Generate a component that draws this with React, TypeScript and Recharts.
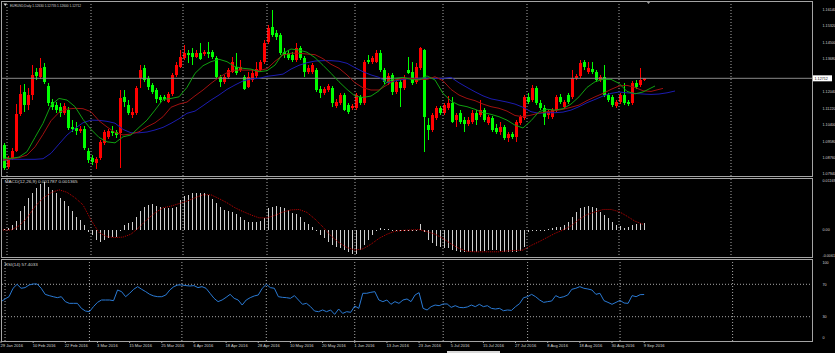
import React from 'react';
import { ComposedChart, Bar, Line, XAxis, YAxis, ReferenceLine } from 'recharts';

// EURUSD daily, 29 Jan 2016 .. 9 Sep 2016 (161 bars), plus empty shift area on the right
const TOTAL_BARS = 203;

const OPEN = [
  1.0939, 1.0829, 1.0874, 1.0909, 1.1093, 1.1203, 1.1138, 1.1188, 1.1302, 1.1278,
  1.1327, 1.1233, 1.1153, 1.1138, 1.1128, 1.1098, 1.1113, 1.1029, 1.1024, 1.1009,
  1.1019, 1.0909, 1.0874, 1.0849, 1.0874, 1.0949, 1.0979, 1.1009, 1.1004, 1.0999,
  1.1178, 1.1138, 1.1088, 1.1098, 1.1273, 1.1322, 1.1273, 1.1238, 1.1213, 1.1178,
  1.1178, 1.1153, 1.1193, 1.1287, 1.1327, 1.1372, 1.1397, 1.1397, 1.1377, 1.1397,
  1.1392, 1.1402, 1.1402, 1.1372, 1.1278, 1.1253, 1.1278, 1.1302, 1.1327, 1.1312,
  1.1278, 1.1228, 1.1263, 1.1283, 1.1312, 1.1352, 1.1452, 1.1527, 1.1497, 1.1487,
  1.1402, 1.1397, 1.1387, 1.1362, 1.1422, 1.1372, 1.1302, 1.1302, 1.1312, 1.1218,
  1.1198, 1.1213, 1.1223, 1.1133, 1.1148, 1.1188, 1.1138, 1.1123, 1.1123, 1.1178,
  1.1148, 1.1362, 1.1352, 1.1352, 1.1397, 1.1312, 1.1248, 1.1287, 1.1203, 1.1253,
  1.1223, 1.1312, 1.1302, 1.1253, 1.1322, 1.1412, 1.1038, 1.1014, 1.1073, 1.1123,
  1.1098, 1.1123, 1.1148, 1.1063, 1.1098, 1.1063, 1.1043, 1.1053, 1.1098, 1.1088,
  1.1113, 1.1048, 1.1073, 1.1024, 1.1004, 1.1029, 1.0974, 1.0994, 1.0979, 1.1048,
  1.1073, 1.1178, 1.1163, 1.1223, 1.1148, 1.1123, 1.1088, 1.1078, 1.1113, 1.1178,
  1.1128, 1.1188, 1.1178, 1.1273, 1.1283, 1.1352, 1.1302, 1.1317, 1.1302, 1.1263,
  1.1278, 1.1188, 1.1178, 1.1133, 1.1153, 1.1188, 1.1153, 1.1148, 1.1248, 1.1238,
  1.1263,
];

const HIGH = [
  1.0949, 1.0884, 1.0924, 1.1143, 1.1238, 1.1243, 1.1223, 1.1337, 1.1322, 1.1372,
  1.1347, 1.1248, 1.1168, 1.1153, 1.1148, 1.1148, 1.1128, 1.1063, 1.1053, 1.1034,
  1.1034, 1.0924, 1.0889, 1.0879, 1.0964, 1.1014, 1.1019, 1.1034, 1.1014, 1.1213,
  1.1213, 1.1163, 1.1123, 1.1233, 1.1337, 1.1337, 1.1283, 1.1248, 1.1223, 1.1188,
  1.1188, 1.1203, 1.1297, 1.1352, 1.1412, 1.1437, 1.1412, 1.1422, 1.1412, 1.1447,
  1.1412, 1.1452, 1.1412, 1.1382, 1.1287, 1.1287, 1.1322, 1.1377, 1.1397, 1.1362,
  1.1287, 1.1302, 1.1312, 1.1352, 1.1362, 1.1462, 1.1537, 1.1611, 1.1512, 1.1497,
  1.1422, 1.1412, 1.1402, 1.1447, 1.1432, 1.1382, 1.1337, 1.1347, 1.1322, 1.1233,
  1.1228, 1.1243, 1.1233, 1.1168, 1.1198, 1.1198, 1.1148, 1.1143, 1.1198, 1.1188,
  1.1362, 1.1387, 1.1382, 1.1412, 1.1412, 1.1322, 1.1297, 1.1297, 1.1263, 1.1263,
  1.1287, 1.1377, 1.1352, 1.1347, 1.1427, 1.1417, 1.1073, 1.1098, 1.1133, 1.1133,
  1.1148, 1.1183, 1.1178, 1.1098, 1.1113, 1.1078, 1.1078, 1.1113, 1.1113, 1.1163,
  1.1123, 1.1088, 1.1083, 1.1043, 1.1053, 1.1038, 1.1004, 1.1004, 1.1063, 1.1088,
  1.1188, 1.1198, 1.1238, 1.1233, 1.1163, 1.1138, 1.1113, 1.1123, 1.1188, 1.1193,
  1.1163, 1.1198, 1.1312, 1.1292, 1.1362, 1.1362, 1.1352, 1.1352, 1.1312, 1.1287,
  1.1337, 1.1198, 1.1188, 1.1163, 1.1198, 1.1248, 1.1163, 1.1258, 1.1263, 1.1322,
  1.12735,
];

const LOW = [
  1.0814, 1.0819, 1.0864, 1.0904, 1.1083, 1.1103, 1.1113, 1.1163, 1.1263, 1.1268,
  1.1243, 1.1133, 1.1113, 1.1098, 1.1078, 1.1088, 1.1014, 1.1004, 1.0989, 1.0999,
  1.0914, 1.0849, 1.0839, 1.0819, 1.0864, 1.0939, 1.0969, 1.0984, 1.0974, 1.0824,
  1.1128, 1.1088, 1.1073, 1.1088, 1.1223, 1.1253, 1.1213, 1.1193, 1.1148, 1.1148,
  1.1158, 1.1148, 1.1183, 1.1278, 1.1322, 1.1362, 1.1347, 1.1337, 1.1372, 1.1362,
  1.1382, 1.1372, 1.1367, 1.1273, 1.1228, 1.1243, 1.1268, 1.1297, 1.1287, 1.1302,
  1.1213, 1.1223, 1.1253, 1.1273, 1.1302, 1.1342, 1.1442, 1.1477, 1.1462, 1.1387,
  1.1372, 1.1362, 1.1352, 1.1352, 1.1362, 1.1278, 1.1292, 1.1292, 1.1203, 1.1173,
  1.1188, 1.1203, 1.1128, 1.1123, 1.1138, 1.1108, 1.1093, 1.1113, 1.1113, 1.1138,
  1.1138, 1.1342, 1.1342, 1.1347, 1.1302, 1.1243, 1.1238, 1.1188, 1.1193, 1.1128,
  1.1213, 1.1292, 1.1238, 1.1243, 1.1312, 1.0904, 1.0964, 1.1004, 1.1063, 1.1088,
  1.1088, 1.1113, 1.1048, 1.1029, 1.1043, 1.1004, 1.1034, 1.1043, 1.1038, 1.1078,
  1.1053, 1.1038, 1.1004, 1.0994, 1.0989, 1.0964, 1.0954, 1.0969, 1.0954, 1.1038,
  1.1063, 1.1143, 1.1153, 1.1138, 1.1113, 1.1038, 1.1068, 1.1068, 1.1103, 1.1143,
  1.1118, 1.1143, 1.1168, 1.1263, 1.1273, 1.1312, 1.1292, 1.1292, 1.1253, 1.1253,
  1.1178, 1.1153, 1.1128, 1.1123, 1.1143, 1.1138, 1.1133, 1.1138, 1.1218, 1.1228,
  1.126,
];

const CLOSE = [
  1.0824, 1.0874, 1.0909, 1.1093, 1.1193, 1.1138, 1.1188, 1.1287, 1.1283, 1.1322,
  1.1253, 1.1148, 1.1128, 1.1113, 1.1098, 1.1133, 1.1024, 1.1019, 1.1009, 1.1019,
  1.0924, 1.0864, 1.0854, 1.0869, 1.0954, 1.1004, 1.1009, 1.0999, 1.0989, 1.1173,
  1.1153, 1.1098, 1.1103, 1.1223, 1.1312, 1.1263, 1.1228, 1.1203, 1.1168, 1.1163,
  1.1168, 1.1193, 1.1287, 1.1337, 1.1377, 1.1397, 1.1387, 1.1377, 1.1397, 1.1367,
  1.1402, 1.1392, 1.1377, 1.1278, 1.1253, 1.1278, 1.1312, 1.1352, 1.1297, 1.1327,
  1.1218, 1.1278, 1.1297, 1.1317, 1.1352, 1.1447, 1.1522, 1.1487, 1.1477, 1.1397,
  1.1387, 1.1372, 1.1362, 1.1422, 1.1372, 1.1302, 1.1322, 1.1337, 1.1213, 1.1198,
  1.1218, 1.1233, 1.1148, 1.1153, 1.1188, 1.1113, 1.1103, 1.1133, 1.1188, 1.1148,
  1.1352, 1.1352, 1.1372, 1.1397, 1.1312, 1.1253, 1.1283, 1.1203, 1.1253, 1.1223,
  1.1273, 1.1297, 1.1248, 1.1327, 1.1422, 1.1078, 1.1014, 1.1088, 1.1123, 1.1098,
  1.1138, 1.1148, 1.1053, 1.1088, 1.1053, 1.1043, 1.1063, 1.1098, 1.1063, 1.1113,
  1.1063, 1.1078, 1.1014, 1.1004, 1.1029, 1.0974, 1.0994, 1.0979, 1.1053, 1.1078,
  1.1178, 1.1153, 1.1223, 1.1148, 1.1123, 1.1078, 1.1103, 1.1113, 1.1178, 1.1153,
  1.1153, 1.1153, 1.1273, 1.1283, 1.1347, 1.1327, 1.1322, 1.1302, 1.1263, 1.1278,
  1.1188, 1.1163, 1.1138, 1.1153, 1.1188, 1.1148, 1.1143, 1.1248, 1.1228, 1.1263,
  1.12712,
];

// Alligator lines, read every other bar: [bar, price]
const LIPS = [
  [0, 1.0873], [2, 1.0873], [4, 1.0879], [6, 1.0906], [8, 1.0977], [10, 1.1047], [12, 1.1138], [14, 1.1171],
  [16, 1.1163], [18, 1.113], [20, 1.1067], [22, 1.1017], [24, 1.0977], [26, 1.0955], [28, 1.095], [30, 1.098],
  [32, 1.0989], [34, 1.1027], [36, 1.1063], [38, 1.1113], [40, 1.1166], [42, 1.1171], [44, 1.1179], [46, 1.1226],
  [48, 1.1296], [50, 1.1334], [52, 1.1354], [54, 1.1366], [56, 1.1354], [58, 1.1329], [60, 1.1321], [62, 1.1317],
  [64, 1.1304], [66, 1.1309], [68, 1.1337], [70, 1.1396], [72, 1.1417], [74, 1.1412], [76, 1.1401], [78, 1.1374],
  [80, 1.1336], [82, 1.1296], [84, 1.1254], [86, 1.1216], [88, 1.1183], [90, 1.1176], [92, 1.1183], [94, 1.1209],
  [96, 1.1253], [98, 1.1271], [100, 1.1276], [102, 1.1266], [104, 1.1263], [106, 1.1283], [108, 1.1263], [110, 1.1196],
  [112, 1.1158], [114, 1.1138], [116, 1.113], [118, 1.1117], [120, 1.11], [122, 1.1092], [124, 1.108], [126, 1.1063],
  [128, 1.1038], [130, 1.1024], [132, 1.106], [134, 1.1105], [136, 1.1117], [138, 1.1113], [140, 1.112], [142, 1.1143],
  [144, 1.1179], [146, 1.1226], [148, 1.1254], [150, 1.1266], [152, 1.1266], [154, 1.1246], [156, 1.1206], [158, 1.1194],
  [160, 1.1203], [162, 1.1223], [163, 1.1233],
];

const TEETH = [
  [0, 1.0864], [2, 1.0871], [4, 1.0876], [6, 1.0889], [8, 1.093], [10, 1.0992], [12, 1.106], [14, 1.1102],
  [16, 1.1118], [18, 1.1122], [20, 1.112], [22, 1.1105], [24, 1.106], [26, 1.1029], [28, 1.1002], [30, 1.0989],
  [32, 1.0994], [34, 1.1005], [36, 1.103], [38, 1.105], [40, 1.108], [42, 1.1127], [44, 1.1143], [46, 1.1153],
  [48, 1.1184], [50, 1.1213], [52, 1.1246], [54, 1.1276], [56, 1.1299], [58, 1.1312], [60, 1.1312], [62, 1.1312],
  [64, 1.131], [66, 1.1319], [68, 1.1356], [70, 1.1387], [72, 1.1396], [74, 1.1396], [76, 1.1392], [78, 1.1389],
  [80, 1.1369], [82, 1.1341], [84, 1.1321], [86, 1.1288], [88, 1.1249], [90, 1.1224], [92, 1.1213], [94, 1.1213],
  [96, 1.1238], [98, 1.1263], [100, 1.1271], [102, 1.1271], [104, 1.1266], [106, 1.1266], [108, 1.1279], [110, 1.1259],
  [112, 1.1216], [114, 1.1188], [116, 1.1171], [118, 1.116], [120, 1.1143], [122, 1.113], [124, 1.1122], [126, 1.1108],
  [128, 1.1086], [130, 1.108], [132, 1.1088], [134, 1.1098], [136, 1.1105], [138, 1.111], [140, 1.1117], [142, 1.1127],
  [144, 1.1138], [146, 1.116], [148, 1.1179], [150, 1.1196], [152, 1.1216], [154, 1.1233], [156, 1.1236], [158, 1.1226],
  [160, 1.1209], [162, 1.1206], [164, 1.1216], [165, 1.1221],
];

const JAW = [
  [0, 1.0864], [2, 1.0868], [4, 1.0868], [6, 1.0868], [8, 1.0868], [10, 1.0871], [12, 1.0898], [14, 1.0944],
  [16, 1.0989], [18, 1.1022], [20, 1.105], [22, 1.1063], [24, 1.1062], [26, 1.1057], [28, 1.1048], [30, 1.1017],
  [32, 1.1], [34, 1.1], [36, 1.1004], [38, 1.1014], [40, 1.1027], [42, 1.1047], [44, 1.107], [46, 1.1097],
  [48, 1.1108], [50, 1.1135], [52, 1.1163], [54, 1.1188], [56, 1.1216], [58, 1.1238], [60, 1.1258], [62, 1.1268],
  [64, 1.1271], [66, 1.1281], [68, 1.1286], [70, 1.1292], [72, 1.1317], [74, 1.1336], [76, 1.1349], [78, 1.1357],
  [80, 1.1359], [82, 1.1359], [84, 1.1356], [86, 1.1346], [88, 1.1324], [90, 1.1304], [92, 1.1288], [94, 1.1276],
  [96, 1.1249], [98, 1.1258], [100, 1.1266], [102, 1.1271], [104, 1.1271], [106, 1.1273], [108, 1.1271], [110, 1.1271],
  [112, 1.1276], [114, 1.1249], [116, 1.1226], [118, 1.1204], [120, 1.1184], [122, 1.1169], [124, 1.1161], [126, 1.1153],
  [128, 1.1143], [130, 1.1127], [132, 1.1105], [134, 1.1097], [136, 1.11], [138, 1.11], [140, 1.1103], [142, 1.1113],
  [144, 1.113], [146, 1.115], [148, 1.1166], [150, 1.1183], [152, 1.1196], [154, 1.1203], [156, 1.1199], [158, 1.1196],
  [160, 1.1193], [162, 1.1191], [164, 1.1193], [166, 1.1199], [168, 1.1208],
];

// MACD(12,26,9) main histogram, one value per bar
const MACD = [
  0.0002, 0.0004, 0.0012, 0.0021, 0.0045, 0.0057, 0.0076, 0.0088, 0.01, 0.0109,
  0.0114, 0.0103, 0.0096, 0.0088, 0.0077, 0.0069, 0.0057, 0.0045, 0.0032, 0.0024,
  0.0012, -0.0004, -0.0012, -0.0024, -0.0028, -0.0024, -0.0018, -0.0016, -0.0016, -0.0002,
  0.0012, 0.0016, 0.002, 0.0032, 0.0045, 0.0056, 0.006, 0.0061, 0.0058, 0.0056,
  0.0053, 0.0052, 0.0052, 0.0056, 0.0072, 0.008, 0.0084, 0.0088, 0.0088, 0.0088,
  0.0088, 0.0084, 0.0074, 0.0064, 0.0056, 0.0048, 0.0045, 0.0042, 0.0037, 0.0032,
  0.0024, 0.002, 0.0018, 0.0018, 0.0021, 0.0028, 0.0053, 0.0056, 0.0058, 0.0056,
  0.0052, 0.0048, 0.004, 0.0037, 0.0032, 0.002, 0.0014, 0.0008, -0.0001, -0.0012,
  -0.002, -0.0028, -0.0036, -0.004, -0.0044, -0.0048, -0.0052, -0.0058, -0.0058, -0.0048,
  -0.0036, -0.0024, -0.0012, 0.0, 0.0004, 0.0002, 0.0002, 0.0001, 0.0001, 0.0001,
  0.0001, 0.0001, 0.0001, 0.0001, 0.0014, -0.0004, -0.0024, -0.0032, -0.0037, -0.004,
  -0.0042, -0.0044, -0.0048, -0.005, -0.0052, -0.0053, -0.0053, -0.0053, -0.0052, -0.005,
  -0.005, -0.0048, -0.0048, -0.0048, -0.005, -0.0053, -0.0053, -0.0053, -0.0052, -0.005,
  -0.004, -0.0004, 0.0001, 0.0001, 0.0001, 0.0001, 0.0002, 0.0004, 0.0006, 0.0008,
  0.0012, 0.002, 0.0032, 0.0044, 0.0052, 0.0056, 0.0057, 0.0054, 0.0052, 0.0044,
  0.0036, 0.0028, 0.0018, 0.0012, 0.001, 0.0004, 0.0008, 0.0012, 0.0015, 0.0016,
  0.001787,
];

// MACD signal (dotted), read every other bar: [bar, value]
const SIGNAL = [
  [0, 0], [2, 0], [4, 0.001], [6, 0.0029], [8, 0.0056], [10, 0.0076], [12, 0.0089], [14, 0.0096],
  [16, 0.009], [18, 0.0077], [20, 0.006], [22, 0.0024], [24, -0.0006], [26, -0.0016], [28, -0.0018], [30, -0.0017],
  [32, -0.001], [34, 0.0006], [36, 0.0025], [38, 0.0041], [40, 0.0053], [42, 0.0057], [44, 0.0063], [46, 0.0069],
  [48, 0.0077], [50, 0.0084], [52, 0.0084], [54, 0.0075], [56, 0.0065], [58, 0.0053], [60, 0.0044], [62, 0.0036],
  [64, 0.0029], [66, 0.0029], [68, 0.0035], [70, 0.0043], [72, 0.0048], [74, 0.0049], [76, 0.0042], [78, 0.0026],
  [80, 0.0007], [82, -0.0014], [84, -0.003], [86, -0.0042], [88, -0.0048], [90, -0.0045], [92, -0.0034], [94, -0.002],
  [96, -0.001], [98, -0.0003], [100, -0.0001], [102, 0], [104, 0.0001], [106, -0.0004], [108, -0.001], [110, -0.002],
  [112, -0.0033], [114, -0.0044], [116, -0.0051], [118, -0.0052], [120, -0.0052], [122, -0.0052], [124, -0.0052], [126, -0.005],
  [128, -0.0049], [130, -0.0048], [132, -0.0037], [134, -0.0028], [136, -0.0018], [138, -0.0008], [140, 0], [142, 0.001],
  [144, 0.0025], [146, 0.0037], [148, 0.0043], [150, 0.0049], [152, 0.0049], [154, 0.0044], [156, 0.0033], [158, 0.0021],
  [160, 0.001365],
];

// RSI(14), one value per bar
const RSI = [
  48.6, 51.9, 54.7, 65.1, 70.0, 65.1, 65.9, 69.2, 70.4, 70.4,
  65.1, 57.6, 56.0, 54.7, 53.5, 54.7, 48.6, 46.5, 46.5, 46.5,
  40.3, 37.0, 36.2, 42.4, 47.7, 50.6, 50.6, 50.6, 49.8, 63.0,
  60.9, 54.7, 58.9, 63.8, 67.1, 63.8, 60.9, 57.6, 55.6, 54.7,
  54.7, 56.8, 63.0, 67.1, 69.2, 69.2, 68.4, 67.9, 68.4, 65.9,
  67.1, 65.1, 58.9, 52.7, 48.6, 50.6, 53.9, 57.6, 52.7, 50.6,
  44.4, 50.6, 53.5, 55.6, 56.8, 65.1, 70.0, 65.9, 65.1, 54.7,
  53.9, 53.5, 52.7, 56.0, 50.6, 45.3, 46.5, 42.4, 37.0, 36.2,
  38.3, 36.2, 38.3, 32.9, 39.5, 34.1, 36.2, 35.4, 43.2, 40.3,
  58.9, 58.9, 60.1, 60.9, 50.6, 48.6, 50.6, 45.3, 48.6, 46.5,
  50.6, 51.9, 48.6, 56.8, 59.7, 40.3, 38.3, 42.4, 44.4, 43.6,
  45.7, 45.7, 41.5, 43.6, 41.5, 41.1, 42.0, 44.4, 42.4, 45.3,
  42.4, 43.6, 40.3, 39.5, 40.3, 37.4, 38.3, 37.8, 42.4, 46.1,
  53.5, 54.7, 57.6, 54.7, 50.6, 47.7, 48.6, 49.4, 56.0, 53.5,
  54.7, 56.8, 63.8, 65.1, 67.1, 65.1, 64.2, 63.0, 57.6, 58.9,
  49.8, 47.7, 45.3, 47.7, 50.2, 46.9, 46.5, 56.0, 54.7, 57.2,
  57.4,
];

const LABEL_BARS = [0, 8, 16, 24, 32, 40, 48, 56, 64, 72, 80, 88, 96, 104, 112, 120, 128, 136, 144, 152, 160];
const LABEL_TEXT = [
  '29 Jan 2016', '10 Feb 2016', '22 Feb 2016', '3 Mar 2016', '15 Mar 2016', '25 Mar 2016', '6 Apr 2016',
  '18 Apr 2016', '28 Apr 2016', '10 May 2016', '20 May 2016', '1 Jun 2016', '13 Jun 2016', '23 Jun 2016',
  '5 Jul 2016', '15 Jul 2016', '27 Jul 2016', '8 Aug 2016', '18 Aug 2016', '30 Aug 2016', '9 Sep 2016',
];
const MONTH_STARTS = [1, 22, 45, 66, 88, 110, 131, 154, 182];

const PRICE_TICKS = [1.0794, 1.0876, 1.0958, 1.104, 1.1122, 1.1204, 1.1368, 1.145, 1.1532, 1.1614];
const MACD_TICKS = [-0.006117, 0, 0.011697];
const RSI_TICKS = [0, 30, 70, 100];
const BID = 1.12712;

const W = 835;
const AXIS_W = 22;
const LEFT = 1;
const FONT = '"Liberation Sans", Arial, sans-serif';
const TEXT = '#d4d4d4';
const GRID = '#a8a8a8';
const FRAME = '#a4a4a4';
const BULL = '#ff0000';
const BEAR = '#00ff00';
const TICK_FONT = 3.7;

const rows: any[] = Array.from({ length: TOTAL_BARS }, (_, i) => {
  const has = i < CLOSE.length;
  return {
    i,
    open: has ? OPEN[i] : null,
    high: has ? HIGH[i] : null,
    low: has ? LOW[i] : null,
    close: has ? CLOSE[i] : null,
    range: has ? [LOW[i], HIGH[i]] : null,
    macd: has ? MACD[i] : null,
    rsi: has ? RSI[i] : null,
    lips: null,
    teeth: null,
    jaw: null,
    signal: null,
  };
});
LIPS.forEach(([i, v]) => { rows[i].lips = v; });
TEETH.forEach(([i, v]) => { rows[i].teeth = v; });
JAW.forEach(([i, v]) => { rows[i].jaw = v; });
SIGNAL.forEach(([i, v]) => { rows[i].signal = v; });

function Candle(props: any) {
  const { x, y, width, height, payload } = props;
  if (!payload || payload.open == null) return <g />;
  const { open, close, high, low } = payload;
  const top = Math.min(y, y + height);
  const bottom = Math.max(y, y + height);
  const span = high - low || 1;
  const toY = (p: number) => top + ((high - p) / span) * (bottom - top);
  const cx = Math.round(x + width / 2);
  const color = close >= open ? BULL : BEAR;
  const bodyTop = Math.round(toY(Math.max(open, close)));
  const bodyBottom = Math.round(toY(Math.min(open, close)));
  return (
    <g shapeRendering="crispEdges">
      <rect x={cx} y={Math.round(top)} width={1} height={Math.max(1, Math.round(bottom) - Math.round(top))} fill={color} />
      <rect x={cx - 1} y={bodyTop} width={3} height={Math.max(1, bodyBottom - bodyTop)} fill={color} />
    </g>
  );
}

function HistBar(props: any) {
  const { x, y, width, height, payload } = props;
  if (!payload || payload.macd == null) return <g />;
  const cx = Math.round(x + width / 2);
  const top = Math.round(Math.min(y, y + height));
  const h = Math.max(1, Math.round(Math.abs(height)));
  return <rect x={cx} y={top} width={1} height={h} fill="#cfcfcf" shapeRendering="crispEdges" />;
}

function PriceTick({ x, y, payload }: any) {
  return (
    <text x={x + 1.5} y={y + 1.3} fontSize={TICK_FONT} fill={TEXT} fontFamily={FONT}>
      {payload.value.toFixed(5)}
    </text>
  );
}

function MacdTick({ x, y, payload }: any) {
  const v = payload.value;
  return (
    <text x={x + 1.5} y={y + 1.3} fontSize={TICK_FONT} fill={TEXT} fontFamily={FONT}>
      {v === 0 ? '0.00' : v.toFixed(6)}
    </text>
  );
}

function RsiTick({ x, y, payload }: any) {
  const v = payload.value;
  const shift = v === 100 ? 3 : v === 0 ? -3 : 0;
  return (
    <text x={x + 1.5} y={y + 1.3 + shift} fontSize={TICK_FONT} fill={TEXT} fontFamily={FONT}>
      {v}
    </text>
  );
}

function DateTick({ x, y, payload }: any) {
  const idx = LABEL_BARS.indexOf(payload.value);
  return (
    <text x={x - 0.5} y={y + 3.5} fontSize={4.1} fill={TEXT} fontFamily={FONT} textAnchor="start">
      {LABEL_TEXT[idx]}
    </text>
  );
}

function BidBadge({ viewBox }: any) {
  if (!viewBox) return null;
  const { x, y, width } = viewBox;
  const left = x + width;
  return (
    <g>
      <rect x={left} y={y - 3} width={19} height={6} fill="#ffffff" />
      <text x={left + 1.5} y={y + 1.4} fontSize={TICK_FONT} fill="#000" fontFamily={FONT}>
        {BID.toFixed(5)}
      </text>
    </g>
  );
}

const monthLines = () =>
  MONTH_STARTS.map((m) => (
    <ReferenceLine key={`m${m}`} x={m} stroke={GRID} strokeDasharray="1 2" strokeWidth={1} />
  ));

export default function App() {
  return (
    <div style={{ position: 'absolute', left: 0, top: 0, width: W, height: 353, background: '#000', overflow: 'hidden' }}>
      <div style={{ position: 'absolute', left: 0, top: 0 }}>
        <ComposedChart width={W} height={178} data={rows} margin={{ top: 2, right: 0, bottom: 2, left: LEFT }}>
          <XAxis dataKey="i" type="category" hide height={0} />
          <YAxis
            orientation="right"
            width={AXIS_W}
            domain={[1.0785, 1.1651]}
            allowDataOverflow
            ticks={PRICE_TICKS}
            interval={0}
            tick={<PriceTick />}
            tickLine={false}
            axisLine={false}
          />
          {monthLines()}
          <ReferenceLine y={BID} stroke="#8a8a8a" label={<BidBadge />} />
          <Bar dataKey="range" barSize={3} shape={(p: any) => <Candle {...p} />} isAnimationActive={false} />
          <Line dataKey="jaw" type="linear" stroke="#1c1cb0" strokeWidth={1} dot={false} connectNulls isAnimationActive={false} />
          <Line dataKey="teeth" type="linear" stroke="#a01010" strokeWidth={1} dot={false} connectNulls isAnimationActive={false} />
          <Line dataKey="lips" type="linear" stroke="#10a010" strokeWidth={1} dot={false} connectNulls isAnimationActive={false} />
        </ComposedChart>
      </div>

      <div style={{ position: 'absolute', left: 0, top: 178 }}>
        <ComposedChart width={W} height={80} data={rows} margin={{ top: 0, right: 0, bottom: 0, left: LEFT }}>
          <XAxis dataKey="i" type="category" hide height={0} />
          <YAxis
            orientation="right"
            width={AXIS_W}
            domain={[-0.006684, 0.012412]}
            allowDataOverflow
            ticks={MACD_TICKS}
            interval={0}
            tick={<MacdTick />}
            tickLine={false}
            axisLine={false}
          />
          {monthLines()}
          <Bar dataKey="macd" barSize={1} shape={(p: any) => <HistBar {...p} />} isAnimationActive={false} />
          <Line dataKey="signal" type="linear" stroke="#c00000" strokeWidth={1} strokeDasharray="1 1" dot={false} connectNulls isAnimationActive={false} />
        </ComposedChart>
      </div>

      <div style={{ position: 'absolute', left: 0, top: 260 }}>
        <ComposedChart width={W} height={93} data={rows} margin={{ top: 0, right: 0, bottom: 0, left: LEFT }}>
          <XAxis
            dataKey="i"
            type="category"
            height={12}
            ticks={LABEL_BARS}
            interval={0}
            tick={<DateTick />}
            tickLine={{ stroke: GRID }}
            tickSize={2}
            tickMargin={0}
            axisLine={false}
          />
          <YAxis
            orientation="right"
            width={AXIS_W}
            domain={[0, 100]}
            allowDataOverflow
            ticks={RSI_TICKS}
            interval={0}
            tick={<RsiTick />}
            tickLine={false}
            axisLine={false}
          />
          {monthLines()}
          <ReferenceLine y={70} stroke={GRID} strokeDasharray="1 2" />
          <ReferenceLine y={30} stroke={GRID} strokeDasharray="1 2" />
          <Line dataKey="rsi" type="linear" stroke="#2a7ad4" strokeWidth={1} dot={false} isAnimationActive={false} />
        </ComposedChart>
      </div>

      <svg width={W} height={353} style={{ position: 'absolute', left: 0, top: 0, pointerEvents: 'none' }}>
        <g fill="none" stroke={FRAME} strokeWidth={1} shapeRendering="crispEdges">
          <rect x={1.5} y={1.5} width={811} height={175} />
          <rect x={1.5} y={178.5} width={811} height={79} />
          <rect x={1.5} y={259.5} width={811} height={82} />
        </g>
        <path d="M3.5 3.5 L7 3.5 L5.25 6 Z" fill="#dcdcdc" />
        <text x={10} y={6.6} fontSize={4.2} fill={TEXT} fontFamily={FONT} textLength={71} lengthAdjust="spacingAndGlyphs">
          EURUSD,Daily 1.12630 1.12735 1.12600 1.12712
        </text>
        <text x={4.7} y={182.6} fontSize={4.2} fill={TEXT} fontFamily={FONT} textLength={73} lengthAdjust="spacingAndGlyphs">
          MACD(12,26,9) 0.001787 0.001365
        </text>
        <text x={4.7} y={265.6} fontSize={4.2} fill={TEXT} fontFamily={FONT} textLength={33} lengthAdjust="spacingAndGlyphs">
          RSI(14) 57.4033
        </text>
        <path d="M646 1 L651 1 L648.5 4 Z" fill="#9a9a9a" />
        <rect x={447} y={351} width={53} height={2} fill="#d8d8d8" />
      </svg>
    </div>
  );
}
